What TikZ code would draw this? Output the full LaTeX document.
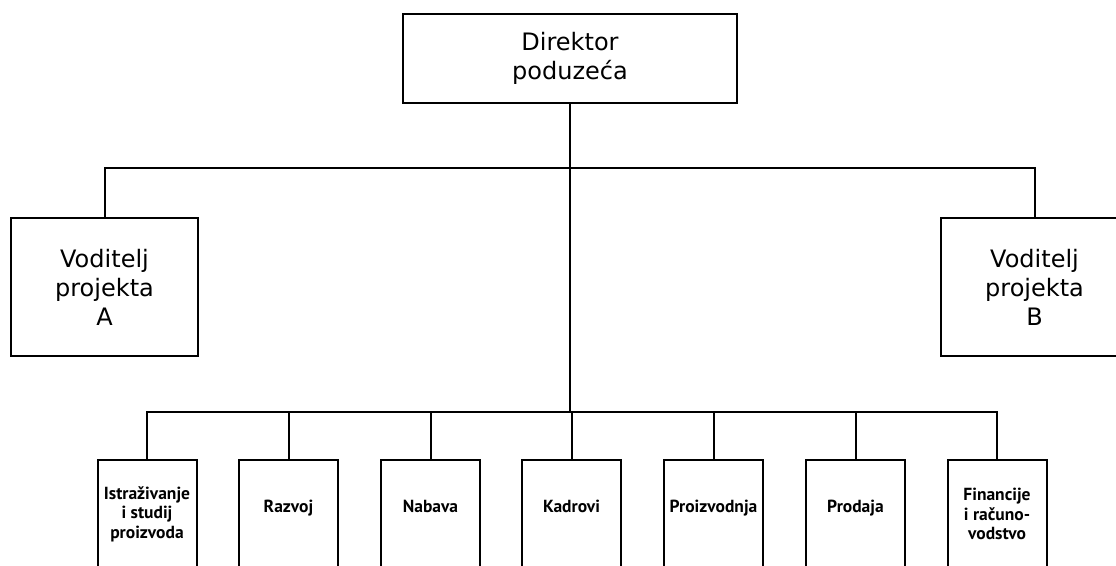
\documentclass[tikz,border=0pt]{standalone}
\usepackage{fontspec}
\setmainfont{DejaVu Sans}
\newfontfamily\odjelfont{PT Sans}
\begin{document}
\begin{tikzpicture}[x=1pt,y=1pt,line width=2pt,
    glavni/.style={draw,minimum width=334pt,minimum height=89pt,align=center,
        font=\fontsize{24}{29}\selectfont},
    voditelj/.style={draw,minimum width=187pt,minimum height=138pt,align=center,
        font=\fontsize{24}{29}\selectfont},
    odjel/.style={draw,anchor=north,minimum width=99pt,minimum height=108pt,
        inner sep=1pt,align=center,font=\odjelfont\bfseries\fontsize{17.5}{19.5}\selectfont},
    jedanred/.style={odjel,text height=12pt,text depth=16pt}]
        \clip (0,0) rectangle (1116,-565);

        % Direktor na vrhu
        \node[glavni](direktor) at (570,-58.5) {Direktor\\poduzeća};

        % Voditelji projekata (A lijevo, B desno)
        \node[voditelj](vodA) at (104.5,-287) {Voditelj\\projekta\\A};
        \node[voditelj](vodB) at (1034.5,-287) {Voditelj\\projekta\\B};

        % Točke grananja
        \coordinate (g1) at (570,-168);
        \coordinate (g2) at (570,-412);

        % Odjeli na dnu
        \node[odjel](o1) at (147,-459) {Istraživanje\\i studij\\proizvoda};
        \node[jedanred](o2) at (288.5,-459) {Razvoj};
        \node[jedanred](o3) at (430.5,-459) {Nabava};
        \node[jedanred](o4) at (571.5,-459) {Kadrovi};
        \node[jedanred](o5) at (713.5,-459) {Proizvodnja};
        \node[jedanred](o6) at (855.5,-459) {Prodaja};
        \node[odjel](o7) at (997,-459) {Financije\\i računo-\\vodstvo};

        % Veze prema voditeljima
        \draw (vodA.north) |- (g1) -| (vodB.north);

        % Veze od direktora prema odjelima
        \draw (direktor.south) -- (g2);
        \foreach \i in {1,...,7}
            \draw (g2) -| (o\i.north);
    \end{tikzpicture}
\end{document}
